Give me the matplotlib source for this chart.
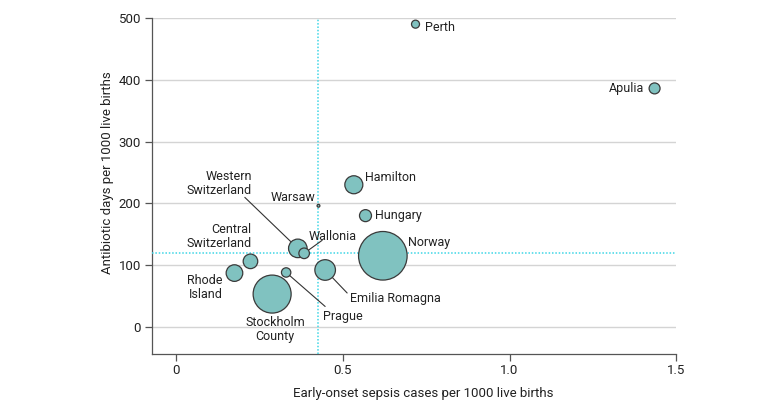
import matplotlib
matplotlib.use('Agg')
import matplotlib.pyplot as plt

# ─── Data ───
regions = ['Perth', 'Apulia', 'Hamilton', 'Warsaw', 'Hungary', 'Norway',
           'Western\nSwitzerland', 'Wallonia', 'Central\nSwitzerland',
           'Rhode\nIsland', 'Stockholm\nCounty', 'Prague', 'Emilia Romagna']
eos_rate = [0.718, 1.435, 0.533, 0.427, 0.568, 0.620,
            0.365, 0.384, 0.223, 0.175, 0.288, 0.330, 0.447]
abx_days = [490, 386, 230, 196, 180, 115,
            127, 119, 106, 87, 53, 88, 92]
# relative bubble size (area, proportional to number of live births)
births = [16, 30, 81, 2, 36, 590, 86, 28, 53, 69, 361, 22, 106]

mean_eos = 0.427
mean_abx = 119

# ─── Label placement: text offset (px), alignment, optional leader end (px) ───
labels = {
    'Perth':                 ((9, -3), 'left', None),
    'Apulia':                ((-10, 0), 'right', None),
    'Hamilton':              ((11, 7), 'left', None),
    'Warsaw':                ((-3, 8), 'right', None),
    'Hungary':               ((10, 0), 'left', None),
    'Norway':                ((25, 13), 'left', None),
    'Western\nSwitzerland':  ((-46, 65), 'right', (-53, 51)),
    'Wallonia':              ((4, 17), 'left', (18, 13)),
    'Central\nSwitzerland':  ((1, 25), 'right', None),
    'Rhode\nIsland':         ((-12, -14), 'right', None),
    'Stockholm\nCounty':     ((3, -35), 'center', None),
    'Prague':                ((37, -44), 'left', (39, -34)),
    'Emilia Romagna':        ((25, -29), 'left', (22, -23)),
}

plt.rcParams['font.family'] = ['Roboto', 'DejaVu Sans']
dpi = 100
px = 72 / dpi  # px -> points

fig = plt.figure(figsize=(7.8, 4.09), dpi=dpi)
ax = fig.add_axes([0.195, 0.1345, 0.672, 0.8215])

bubble_col = '#80c2c0'
edge_col = '#3a3a3a'
ref_col = '#3fd6e6'

# size: radius px = sqrt(births); s in points^2
sizes = [(2 * (b ** 0.5) * px) ** 2 for b in births]
ax.scatter(eos_rate, abx_days, s=sizes, color=bubble_col, edgecolors=edge_col,
           linewidths=0.9, zorder=4)

ax.axvline(mean_eos, color=ref_col, linestyle=(0, (1, 1.2)), linewidth=1.1, zorder=3)
ax.axhline(mean_abx, color=ref_col, linestyle=(0, (1, 1.2)), linewidth=1.1, zorder=3)

for name, x, y, b in zip(regions, eos_rate, abx_days, births):
    (dx, dy), ha, lead = labels[name]
    ax.annotate(name, (x, y), xytext=(dx * px, dy * px), textcoords='offset points',
                ha=ha, va='center', multialignment=ha, fontsize=9,
                color='#222222', linespacing=1.1, zorder=5)
    if lead is not None:
        r = b ** 0.5
        ax.annotate('', xy=(x, y), xytext=(lead[0] * px, lead[1] * px),
                    textcoords='offset points',
                    arrowprops=dict(arrowstyle='-', color='#333333', lw=0.8,
                                    shrinkA=0, shrinkB=r * px))

ax.set_xlim(-0.072, 1.5)
ax.set_ylim(-44, 500)
ax.set_xticks([0, 0.5, 1.0, 1.5])
ax.set_xticklabels(['0', '0.5', '1.0', '1.5'])
ax.set_yticks([0, 100, 200, 300, 400, 500])
ax.yaxis.grid(True, color='#d4d4d4', linewidth=1)
ax.set_axisbelow(True)

for s in ['top', 'right']:
    ax.spines[s].set_visible(False)
for s in ['left', 'bottom']:
    ax.spines[s].set_color('#555555')
    ax.spines[s].set_linewidth(0.9)
ax.tick_params(direction='out', length=5, width=0.9, color='#555555',
               labelsize=9.5, labelcolor='#222222', pad=3)
ax.tick_params(axis='x', pad=2)

ax.set_xlabel('Early-onset sepsis cases per 1000 live births', fontsize=9.5,
              color='#222222')
ax.set_ylabel('Antibiotic days per 1000 live births', fontsize=9.5,
              color='#222222')
ax.xaxis.set_label_coords(0.517, -0.098)
ax.yaxis.set_label_coords(-0.072, 0.54)

fig.savefig('out.png', dpi=dpi)
